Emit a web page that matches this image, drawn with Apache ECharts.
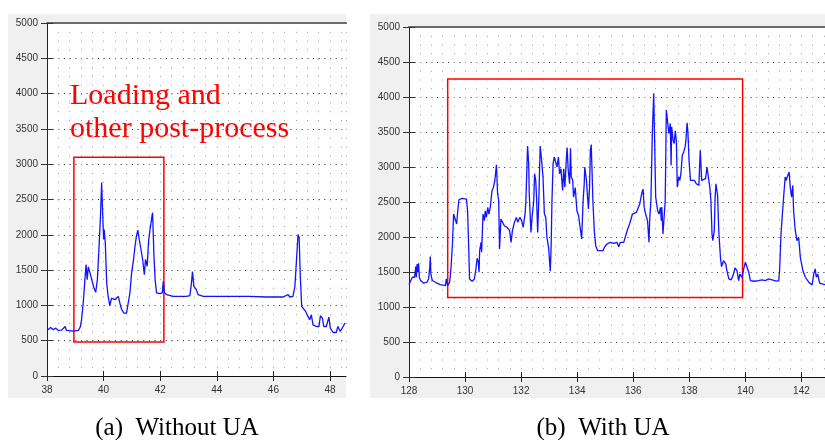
<!DOCTYPE html>
<html>
<head>
<meta charset="utf-8">
<script src="https://cdn.jsdelivr.net/npm/echarts@6/dist/echarts.min.js"></script>
<style>
html, body { margin: 0; padding: 0; background: #fff; }
#chart { width: 825px; height: 440px; }
</style>
</head>
<body>
<div id="chart"></div>
<script>
// (a) without UA : [time, value]
var seriesA = [
  [38.00,645],[38.13,687],[38.22,654],[38.31,678],[38.40,645],[38.52,650],[38.64,701],[38.69,645],[38.93,635],
  [39.11,645],[39.18,700],[39.22,796],[39.28,1033],[39.34,1365],[39.38,1578],[39.42,1365],[39.46,1545],[39.52,1460],
  [39.58,1365],[39.66,1247],[39.72,1185],[39.78,1365],[39.84,1839],[39.89,2266],[39.93,2740],[39.96,2384],[40.00,1934],
  [40.02,2076],[40.06,1887],[40.11,1318],[40.16,1128],[40.22,995],[40.28,1104],[40.40,1081],[40.52,1128],[40.58,1024],
  [40.64,939],[40.72,891],[40.81,891],[40.87,915],[40.93,1176],[40.99,1460],[41.05,1626],[41.11,1839],[41.16,1981],
  [41.21,2067],[41.26,1934],[41.33,1958],[41.38,1650],[41.44,1436],[41.48,1650],[41.54,1555],[41.59,1910],[41.64,2076],
  [41.69,2076],[41.73,2313],[41.78,1697],[41.82,1365],[41.87,1176],[41.99,1166],[42.07,1176],[42.11,1341],[42.15,1185],
  [42.22,1152],[42.46,1128],[42.93,1128],[43.05,1138],[43.11,1341],[43.14,1479],[43.19,1270],[43.24,1294],[43.28,1220],
  [43.34,1152],[43.52,1128],[44.58,1128],[45.16,1128],[45.75,1119],[46.34,1119],[46.52,1152],[46.58,1119],[46.69,1128],
  [46.76,1270],[46.81,1602],[46.87,2005],[46.91,1958],[46.95,1413],[47.00,986],[47.07,962],[47.14,915],[47.22,844],
  [47.28,796],[47.34,867],[47.40,725],[47.52,701],[47.61,701],[47.66,853],[47.73,820],[47.78,701],[47.87,701],
  [47.96,834],[48.01,678],[48.11,616],[48.22,616],[48.28,701],[48.36,630],[48.46,701],[48.53,749]
];

// (b) with UA : [time, value]
var seriesB = [
  [128.00,1320],[128.07,1320],[128.12,1425],[128.17,1449],[128.20,1425],[128.24,1577],[128.26,1425],[128.29,1615],
  [128.31,1496],[128.34,1625],[128.37,1425],[128.40,1387],[128.52,1340],[128.64,1354],[128.70,1401],[128.74,1568],
  [128.76,1720],[128.78,1473],[128.83,1378],[129.00,1340],[129.12,1320],[129.30,1306],[129.33,1401],[129.38,1306],
  [129.45,1354],[129.50,1568],[129.55,1900],[129.59,2328],[129.65,2351],[129.70,2185],[129.74,2375],[129.78,2532],
  [129.89,2551],[130.05,2541],[130.09,2375],[130.13,1853],[130.16,1401],[130.25,1368],[130.33,1397],[130.38,1520],
  [130.43,1696],[130.47,1650],[130.50,1496],[130.52,1805],[130.57,1924],[130.59,1781],[130.64,2328],[130.69,2233],
  [130.72,2375],[130.76,2280],[130.81,2423],[130.85,2328],[130.90,2423],[130.96,2660],[131.01,2708],[131.06,2800],
  [131.12,3030],[131.16,2627],[131.20,2518],[131.23,1829],[131.28,2256],[131.35,2233],[131.40,2161],[131.50,2138],
  [131.59,2090],[131.64,1924],[131.69,2090],[131.76,2209],[131.83,2280],[131.88,2209],[131.95,2280],[132.02,2233],
  [132.07,2138],[132.14,2328],[132.17,2518],[132.23,3300],[132.27,3048],[132.29,2617],[132.35,2066],[132.39,2280],
  [132.45,2518],[132.48,2904],[132.52,2809],[132.55,2570],[132.59,2066],[132.63,2518],[132.68,3300],[132.73,3096],
  [132.78,2856],[132.83,2328],[132.88,2280],[132.92,1995],[132.98,1853],[133.04,1510],[133.07,1853],[133.10,2518],
  [133.14,3048],[133.18,3143],[133.23,3120],[133.28,3000],[133.33,3143],[133.37,2904],[133.42,2976],[133.48,2665],
  [133.52,2976],[133.56,2713],[133.61,3096],[133.64,3278],[133.68,2952],[133.73,2760],[133.76,3268],[133.79,2856],
  [133.84,2809],[133.87,2570],[133.93,2707],[133.99,2375],[134.05,2304],[134.11,2328],[134.16,1971],[134.21,2518],
  [134.25,2750],[134.27,3000],[134.33,2809],[134.37,2570],[134.40,2399],[134.44,2707],[134.47,3239],[134.50,3320],
  [134.54,2809],[134.56,2518],[134.61,2090],[134.66,1876],[134.73,1805],[134.83,1805],[134.92,1805],[134.97,1853],
  [135.06,1900],[135.18,1924],[135.30,1910],[135.42,1924],[135.48,1862],[135.54,1924],[135.66,1924],[135.73,1948],
  [135.80,2114],[135.87,2185],[135.97,2328],[136.04,2328],[136.11,2351],[136.18,2351],[136.23,2470],[136.31,2636],
  [136.35,2684],[136.39,2423],[136.44,2328],[136.51,2233],[136.56,1924],[136.59,2280],[136.63,2518],[136.68,3478],
  [136.73,4053],[136.76,4077],[136.80,2570],[136.82,2518],[136.87,2375],[136.92,2328],[136.97,2423],[137.00,2233],
  [137.02,2423],[137.06,2042],[137.11,2020],[137.14,2518],[137.18,3813],[137.23,3813],[137.27,3478],[137.32,3622],
  [137.35,3024],[137.37,3575],[137.42,3383],[137.46,3335],[137.50,3517],[137.54,3359],[137.57,2713],[137.62,2856],
  [137.66,2809],[137.70,2904],[137.75,3167],[137.80,3215],[137.85,3287],[137.88,3383],[137.92,3632],[137.95,3500],
  [137.99,3096],[138.04,2809],[138.11,2785],[138.18,2809],[138.25,2761],[138.30,2785],[138.34,2737],[138.39,3239],
  [138.44,2809],[138.51,2785],[138.58,2833],[138.63,3000],[138.69,2976],[138.73,2713],[138.77,2522],[138.81,2042],
  [138.84,1948],[138.89,2090],[138.92,2565],[138.95,2761],[139.01,2589],[139.05,2090],[139.11,1710],[139.15,1577],
  [139.22,1663],[139.30,1615],[139.34,1520],[139.41,1401],[139.49,1387],[139.56,1449],[139.63,1558],[139.70,1520],
  [139.76,1378],[139.80,1470],[139.88,1425],[139.94,1544],[140.00,1639],[140.06,1615],[140.12,1496],[140.18,1378],
  [140.30,1368],[140.47,1378],[140.59,1387],[140.71,1378],[140.83,1401],[140.89,1378],[141.10,1368],[141.19,1378],
  [141.22,1520],[141.27,2042],[141.32,2328],[141.37,2600],[141.42,2856],[141.46,2809],[141.51,2880],[141.56,2928],
  [141.60,2713],[141.65,2570],[141.69,2737],[141.72,2375],[141.78,2090],[141.84,1948],[141.90,1995],[141.96,1710],
  [142.05,1520],[142.14,1425],[142.26,1354],[142.38,1316],[142.44,1473],[142.49,1544],[142.53,1425],[142.58,1473],
  [142.65,1340],[142.73,1330],[142.85,1320]
];

var xTicksA = [38, 40, 42, 44, 46, 48];
var xTicksB = [128, 130, 132, 134, 136, 138, 140, 142];
var xRangeA = [38, 48.565];
var xRangeB = [128, 142.84];
var yRange = [0, 5000];
// highlighted regions: [x0, y0], [x1, y1]
var boxA = [[38.95, 480], [42.13, 3100]];
var boxB = [[129.38, 1134], [139.9, 4257]];
var noteLines = ['Loading and', 'other post-process'];
var captions = ['(a)  Without UA', '(b)  With UA'];

var labelFont = 'Liberation Sans';
var serif = '"Liberation Serif", "DejaVu Serif", serif';

function xAxes(gi, range, ticks, colDash) {
  return [
    {
      type: 'value', gridIndex: gi, position: 'bottom',
      min: range[0], max: range[1], interval: 2,
      axisLine: { show: true, onZero: false, lineStyle: { color: '#111', width: 1 } },
      axisTick: { show: true, length: 5, customValues: ticks, lineStyle: { color: '#222' } },
      axisLabel: { customValues: ticks, margin: 9, fontSize: 10, color: '#333', fontFamily: labelFont },
      splitLine: { show: false }
    },
    {
      // inner half of the crossing ticks
      type: 'value', gridIndex: gi, position: 'bottom',
      min: range[0], max: range[1], interval: 2,
      axisLine: { show: false },
      axisTick: { show: true, inside: true, length: 5, customValues: ticks, lineStyle: { color: '#222' } },
      axisLabel: { show: false },
      splitLine: { show: false }
    },
    {
      // dotted minor columns
      type: 'value', gridIndex: gi, position: 'bottom',
      min: range[0], max: range[1], interval: 0.4,
      axisLine: { show: false },
      axisTick: { show: false },
      axisLabel: { show: false },
      splitLine: { show: true, lineStyle: { color: '#9a9aa6', width: 1, type: colDash } }
    },
    {
      // top frame line
      type: 'value', gridIndex: gi, position: 'top',
      min: range[0], max: range[1],
      axisLine: { show: true, onZero: false, lineStyle: { color: '#6a6a6a', width: 2 } },
      axisTick: { show: false },
      axisLabel: { show: false },
      splitLine: { show: false }
    }
  ];
}

function yAxes(gi, rowDash) {
  return [
    {
      type: 'value', gridIndex: gi, position: 'left',
      min: yRange[0], max: yRange[1], interval: 500,
      axisLine: { show: true, onZero: false, lineStyle: { color: '#222', width: 1 } },
      axisTick: { show: true, length: 6, lineStyle: { color: '#333' } },
      axisLabel: {
        margin: 9, fontSize: 10, color: '#333', fontFamily: labelFont,
        formatter: function (v) { return String(v); }
      },
      splitLine: { show: true, lineStyle: { color: '#222', width: 1, type: rowDash } }
    },
    {
      type: 'value', gridIndex: gi, position: 'left',
      min: yRange[0], max: yRange[1], interval: 500,
      axisLine: { show: false },
      axisTick: { show: true, inside: true, length: 6, lineStyle: { color: '#333' } },
      axisLabel: { show: false },
      splitLine: { show: false }
    }
  ];
}

function box(b) {
  return {
    silent: true,
    label: { show: false },
    itemStyle: { color: 'rgba(0,0,0,0)', borderColor: '#ff0000', borderWidth: 1.5 },
    data: [[{ coord: b[0] }, { coord: b[1] }]]
  };
}

var chart = echarts.init(document.getElementById('chart'));
var option = {
  animation: false,
  backgroundColor: '#fff',
  grid: [
    { left: 47, top: 23, width: 299, height: 353, show: true, backgroundColor: '#fff', borderWidth: 0 },
    { left: 409, top: 27, width: 416, height: 350, show: true, backgroundColor: '#fff', borderWidth: 0 }
  ],
  xAxis: xAxes(0, xRangeA, xTicksA, [1, 7.825]).concat(xAxes(1, xRangeB, xTicksB, [1, 7.75])),
  yAxis: yAxes(0, [1, 4.66]).concat(yAxes(1, [1, 4.6])),
  graphic: [
    { type: 'rect', z: -5, shape: { x: 8, y: 14, width: 338, height: 384 }, style: { fill: '#f0f0f0' } },
    { type: 'rect', z: -5, shape: { x: 370, y: 14, width: 455, height: 384 }, style: { fill: '#f0f0f0' } },
    {
      type: 'text', x: 70, y: 79, z: 100,
      style: { text: noteLines.join('\n'), font: '30px ' + serif, fill: '#ff0000', lineHeight: 33.5 }
    },
    {
      type: 'text', x: 177, y: 428, z: 100,
      style: { text: captions[0], font: '25px ' + serif, fill: '#000', align: 'center', verticalAlign: 'middle' }
    },
    {
      type: 'text', x: 603, y: 428, z: 100,
      style: { text: captions[1], font: '25px ' + serif, fill: '#000', align: 'center', verticalAlign: 'middle' }
    }
  ],
  series: [
    {
      type: 'line', xAxisIndex: 0, yAxisIndex: 0, data: seriesA,
      showSymbol: false, symbol: 'none',
      lineStyle: { color: '#1212ff', width: 1.3 },
      markArea: box(boxA)
    },
    {
      type: 'line', xAxisIndex: 4, yAxisIndex: 2, data: seriesB,
      showSymbol: false, symbol: 'none',
      lineStyle: { color: '#1212ff', width: 1.3 },
      markArea: box(boxB)
    }
  ]
};
chart.setOption(option);
</script>
</body>
</html>
